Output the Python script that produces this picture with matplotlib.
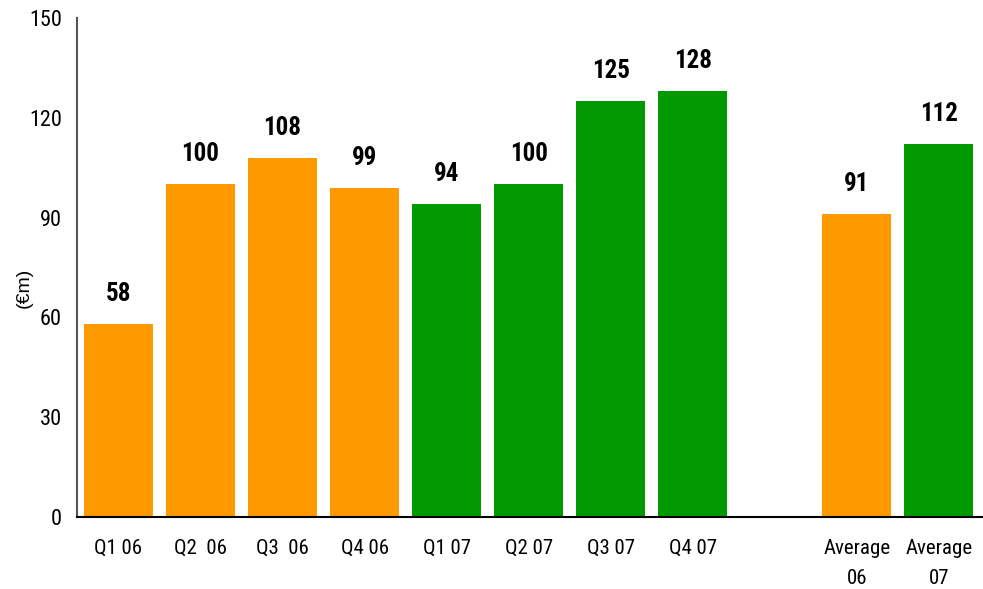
import matplotlib.pyplot as plt

# data
labels = ['Q1 06', 'Q2  06', 'Q3  06', 'Q4 06', 'Q1 07', 'Q2 07', 'Q3 07', 'Q4 07',
          'Average\n06', 'Average\n07']
values = [58, 100, 108, 99, 94, 100, 125, 128, 91, 112]
positions = [0, 1, 2, 3, 4, 5, 6, 7, 9, 10]
years = ['06', '06', '06', '06', '07', '07', '07', '07', '06', '07']

ORANGE = '#FF9900'
GREEN = '#009900'
colors = [ORANGE if y == '06' else GREEN for y in years]

plt.rcParams['font.family'] = ['Roboto Condensed', 'DejaVu Sans']

fig = plt.figure(figsize=(9.83, 5.89), dpi=100)
ax = fig.add_axes([77 / 983, 72 / 589, 1 - 77 / 983, 499 / 589])

bars = ax.bar(positions, values, width=0.84, color=colors)
for b, v in zip(bars, values):
    ax.annotate(str(v), (b.get_x() + b.get_width() / 2, v), xytext=(0, 13),
                textcoords='offset points', ha='center', va='bottom',
                fontsize=18, fontweight='bold')

ax.set_ylim(0, 150)
ax.set_yticks([0, 30, 60, 90, 120, 150])
ax.set_xlim(-0.506, 10.54)
ax.set_xticks(positions)
ax.set_xticklabels(labels, fontsize=15, linespacing=1.75)
ax.tick_params(axis='both', length=0)
ax.tick_params(axis='y', labelsize=16, pad=11)
ax.tick_params(axis='x', pad=16)
ax.text(-0.058, 0.46, '(€m)', transform=ax.transAxes, rotation=90,
        ha='center', va='center', fontsize=14, family=['Liberation Sans', 'DejaVu Sans'])

ax.spines['top'].set_visible(False)
ax.spines['right'].set_visible(False)
ax.spines['left'].set_color('#555555')
ax.spines['left'].set_linewidth(1.5)
ax.spines['bottom'].set_color('black')
ax.spines['bottom'].set_linewidth(1.5)

fig.savefig('out.png', dpi=100)
